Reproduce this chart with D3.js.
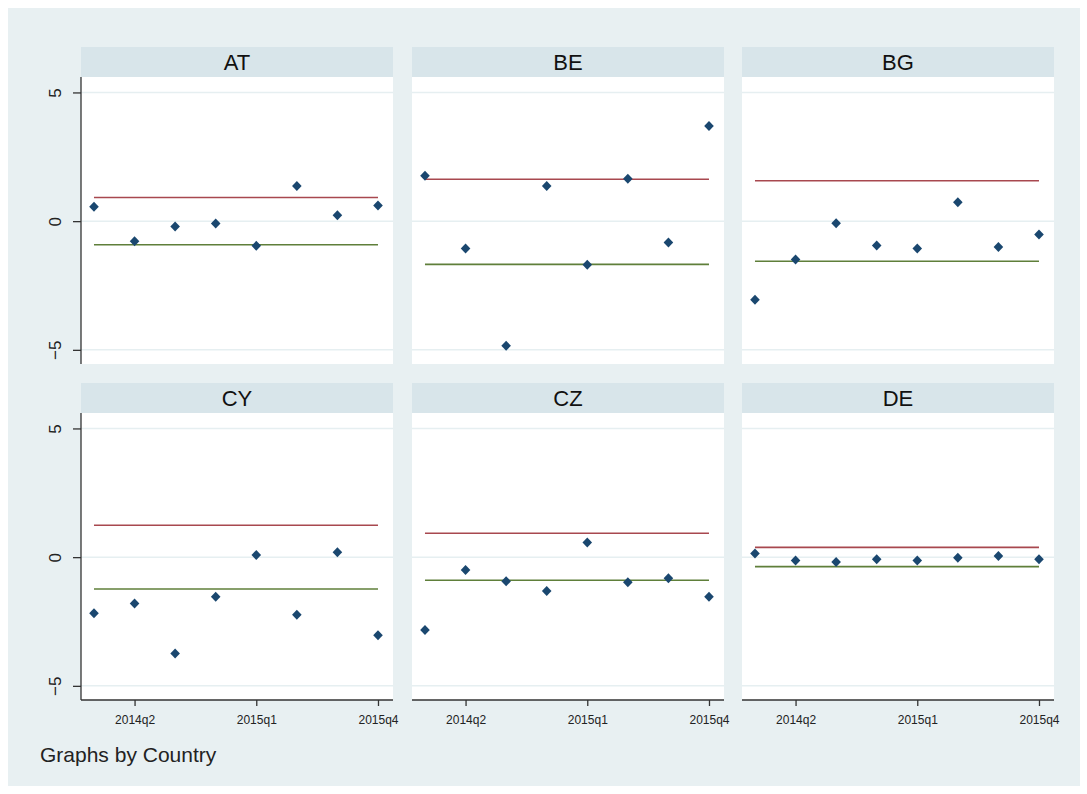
<!DOCTYPE html>
<html>
<head>
<meta charset="utf-8">
<script src="https://cdn.jsdelivr.net/npm/d3@7"></script>
<style>
  body { margin: 0; background: #fff; }
  svg { display: block; font-family: "Liberation Sans", Arial, sans-serif; }
</style>
</head>
<body>
<div class="chart"></div>
<script>
// quarters on the x axis
const quarters = ['2014q1', '2014q2', '2014q3', '2014q4', '2015q1', '2015q2', '2015q3', '2015q4']
const tickQuarters = ['2014q2', '2015q1', '2015q4']
const yTicks = [-5, 0, 5]

const countries = ['AT', 'BE', 'BG', 'CY', 'CZ', 'DE']

// residuals per country, one per quarter
const valuesAT = [0.56, -0.78, -0.21, -0.09, -0.96, 1.37, 0.23, 0.61]
const valuesBE = [1.76, -1.06, -4.84, 1.37, -1.69, 1.65, -0.83, 3.70]
const valuesBG = [-3.05, -1.49, -0.08, -0.95, -1.06, 0.73, -1.00, -0.52]
const valuesCY = [-2.18, -1.80, -3.74, -1.54, 0.08, -2.24, 0.19, -3.03]
const valuesCZ = [-2.83, -0.50, -0.94, -1.32, 0.57, -0.98, -0.82, -1.54]
const valuesDE = [0.14, -0.13, -0.19, -0.08, -0.13, -0.02, 0.04, -0.08]

// upper (red) and lower (green) bands
const upper = [0.92, 1.63, 1.57, 1.24, 0.93, 0.38]
const lower = [-0.92, -1.68, -1.56, -1.24, -0.90, -0.37]

const series = [valuesAT, valuesBE, valuesBG, valuesCY, valuesCZ, valuesDE]

const width = 1087
const height = 794

const svg = d3.select('.chart').append('svg')
  .attr('width', width)
  .attr('height', height)

// graph region
svg.append('rect')
  .attr('x', 8).attr('y', 8)
  .attr('width', 1072).attr('height', 778)
  .attr('fill', '#e8f0f2')

const colX = [81, 412, 742]
const rowY = [47, 383]
const panelW = 312
const headH = 30
const plotH = 287

const x = d3.scaleLinear().domain([-0.32, 7.37]).range([0, panelW])
const y = d3.scaleLinear().domain([-5.55, 5.6]).range([plotH, 0])

const diamond = 'M0,-5L4.8,0L0,5L-4.8,0Z'

countries.forEach((name, i) => {
  const col = i % 3
  const row = Math.floor(i / 3)
  const g = svg.append('g')
    .attr('transform', `translate(${colX[col]},${rowY[row]})`)

  // title strip
  g.append('rect')
    .attr('width', panelW).attr('height', headH)
    .attr('fill', '#d8e5ea')
  g.append('text')
    .attr('x', panelW / 2).attr('y', headH / 2 + 8)
    .attr('text-anchor', 'middle')
    .attr('font-size', 22)
    .attr('fill', '#111')
    .text(name)

  const plot = g.append('g').attr('transform', `translate(0,${headH})`)

  plot.append('rect')
    .attr('width', panelW).attr('height', plotH)
    .attr('fill', '#fff')

  // grid lines
  plot.selectAll('.grid')
    .data(yTicks)
    .enter()
    .append('line')
    .attr('x1', 0).attr('x2', panelW)
    .attr('y1', d => y(d)).attr('y2', d => y(d))
    .attr('stroke', '#e6eff1')
    .attr('stroke-width', 1.5)

  // band lines
  plot.append('line')
    .attr('x1', x(0)).attr('x2', x(7))
    .attr('y1', y(upper[i])).attr('y2', y(upper[i]))
    .attr('stroke', '#a8484f')
    .attr('stroke-width', 1.6)
  plot.append('line')
    .attr('x1', x(0)).attr('x2', x(7))
    .attr('y1', y(lower[i])).attr('y2', y(lower[i]))
    .attr('stroke', '#5f7f3a')
    .attr('stroke-width', 1.6)

  plot.selectAll('.pt')
    .data(series[i])
    .enter()
    .append('path')
    .attr('d', diamond)
    .attr('transform', (d, k) => `translate(${x(k)},${y(d)})`)
    .attr('fill', '#1a476f')

  if (col === 0) {
    const yAxis = plot.append('g')
      .call(d3.axisLeft(y).tickValues(yTicks).tickSize(8).tickSizeOuter(0).tickFormat(d3.format('d')))
    yAxis.select('.domain').attr('stroke', '#333').attr('stroke-width', 1.3)
      .attr('d', `M0,0V${plotH}`)
    yAxis.selectAll('.tick line').attr('stroke', '#333').attr('stroke-width', 1.3)
    yAxis.selectAll('.tick text')
      .attr('font-size', 17)
      .attr('fill', '#222')
      .attr('font-family', '"Liberation Sans", Arial, sans-serif')
      .attr('transform', 'rotate(-90)')
      .attr('x', 0)
      .attr('y', -20)
      .attr('dy', 0)
      .attr('text-anchor', 'middle')
  }

  if (row === 1) {
    const xAxis = plot.append('g')
      .attr('transform', `translate(0,${plotH})`)
      .call(d3.axisBottom(x)
        .tickValues(tickQuarters.map(q => quarters.indexOf(q)))
        .tickSize(6).tickSizeOuter(0)
        .tickFormat(k => quarters[k]))
    xAxis.select('.domain').attr('stroke', '#333').attr('stroke-width', 1.3)
      .attr('d', `M0,0H${panelW}`)
    xAxis.selectAll('.tick line').attr('stroke', '#333').attr('stroke-width', 1.3)
    xAxis.selectAll('.tick text')
      .attr('font-size', 12)
      .attr('fill', '#222')
      .attr('font-family', '"Liberation Sans", Arial, sans-serif')
      .attr('y', 15)
  }
})

svg.append('text')
  .attr('x', 40).attr('y', 762)
  .attr('font-size', 21)
  .attr('fill', '#222')
  .text('Graphs by Country')
</script>
</body>
</html>
